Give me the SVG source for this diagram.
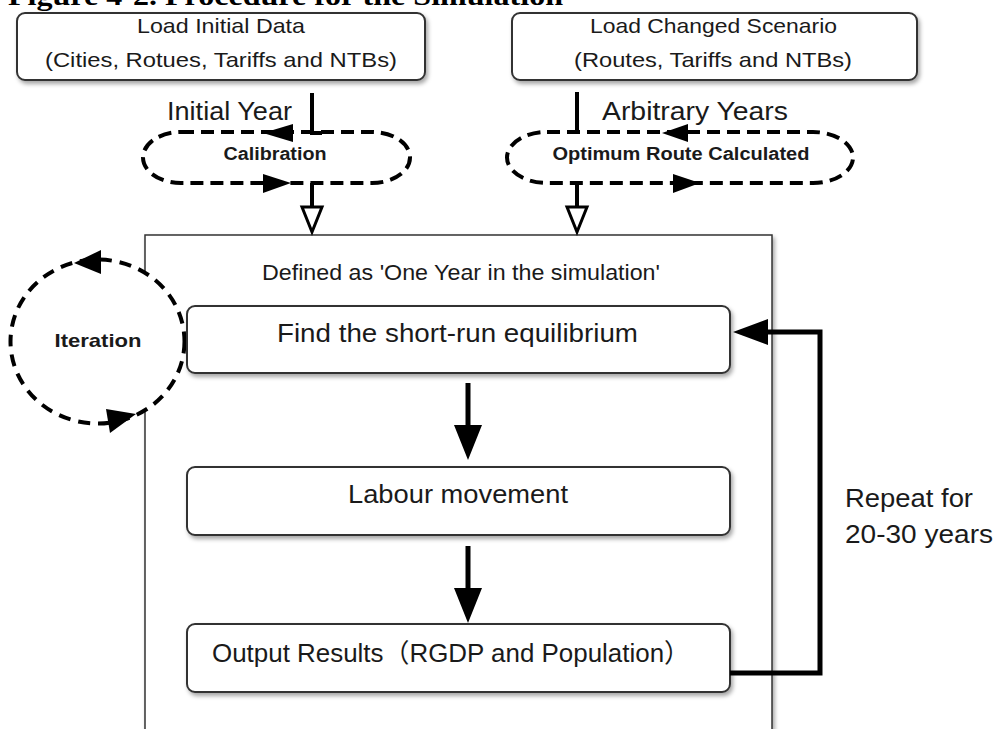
<svg xmlns="http://www.w3.org/2000/svg" width="998" height="729" viewBox="0 0 998 729">
<defs>
<filter id="sh" x="-5%" y="-20%" width="112%" height="150%">
<feDropShadow dx="2" dy="3" stdDeviation="2" flood-color="#000" flood-opacity="0.35"/>
</filter>
<style>
.t{font-family:"Liberation Sans","Noto Sans CJK JP",sans-serif;fill:#1a1a1a}
.b{font-weight:bold}
.box{fill:#fff;stroke:#333;stroke-width:2}
.dash{fill:#fff;stroke:#000;stroke-width:4;stroke-dasharray:13 7}
.ln{fill:none;stroke:#000;stroke-width:4}
.thick{fill:none;stroke:#000;stroke-width:5}
.head{fill:#000}
.open{fill:#fff;stroke:#000;stroke-width:3;stroke-linejoin:miter}
</style>
</defs>
<rect width="998" height="729" fill="#fff"/>
<text x="8" y="5" font-family="Liberation Serif, serif" font-weight="bold" font-size="28" textLength="555" lengthAdjust="spacingAndGlyphs" fill="#000">Figure 4-2. Procedure for the Simulation</text>

<g id="load-initial">
<rect class="box" x="17" y="13" width="408" height="67" rx="8" filter="url(#sh)"/>
<text class="t" x="221" y="33" font-size="21" text-anchor="middle" textLength="168" lengthAdjust="spacingAndGlyphs">Load Initial Data</text>
<text class="t" x="221" y="67" font-size="21" text-anchor="middle" textLength="352" lengthAdjust="spacingAndGlyphs">(Cities, Rotues, Tariffs and NTBs)</text>
</g>
<g id="load-changed">
<rect class="box" x="512" y="13" width="405" height="67" rx="8" filter="url(#sh)"/>
<text class="t" x="713.5" y="33" font-size="21" text-anchor="middle" textLength="247" lengthAdjust="spacingAndGlyphs">Load Changed Scenario</text>
<text class="t" x="713" y="67" font-size="21" text-anchor="middle" textLength="278" lengthAdjust="spacingAndGlyphs">(Routes, Tariffs and NTBs)</text>
</g>

<g id="one-year">
<rect x="145" y="235" width="627" height="520" fill="#fff" stroke="#333" stroke-width="1.5" filter="url(#sh)"/>
<text class="t" x="262" y="280" font-size="22" textLength="398" lengthAdjust="spacingAndGlyphs">Defined as 'One Year in the simulation'</text>
</g>

<g id="iteration">
<ellipse cx="97.5" cy="341.5" rx="87" ry="82" fill="#fff" stroke="#000" stroke-width="4" stroke-dasharray="12 8"/>
<polygon class="head" points="74,263 101,250 101,274"/>
<polygon class="head" points="106,409 110,433 136,414"/>
<text class="t b" x="98" y="347" font-size="19" text-anchor="middle" textLength="87" lengthAdjust="spacingAndGlyphs">Iteration</text>
</g>

<g id="calibration">
<rect class="dash" x="143" y="132" width="267" height="51" rx="38" ry="25.5"/>
<polygon class="head" points="263,133 293,124 293,142"/>
<polygon class="head" points="263,174 263,193 291,183"/>
<text class="t b" x="275" y="160" font-size="18" text-anchor="middle" textLength="103" lengthAdjust="spacingAndGlyphs">Calibration</text>
</g>
<g id="optimum-route">
<rect class="dash" x="507" y="132" width="346" height="51" rx="40" ry="25.5"/>
<polygon class="head" points="662,133 688,124 688,142"/>
<polygon class="head" points="673,174 673,193 700,183"/>
<text class="t b" x="681" y="160" font-size="18" text-anchor="middle" textLength="257" lengthAdjust="spacingAndGlyphs">Optimum Route Calculated</text>
</g>

<g id="find-equilibrium">
<rect class="box" x="187" y="306" width="543" height="67" rx="8" filter="url(#sh)"/>
<text class="t" x="277" y="342" font-size="26" textLength="361" lengthAdjust="spacingAndGlyphs">Find the short-run equilibrium</text>
</g>
<g id="labour-movement">
<rect class="box" x="187" y="467" width="543" height="68" rx="8" filter="url(#sh)"/>
<text class="t" x="348" y="503" font-size="26" textLength="220" lengthAdjust="spacingAndGlyphs">Labour movement</text>
</g>
<g id="output-results">
<rect class="box" x="187" y="624" width="543" height="68" rx="8" filter="url(#sh)"/>
<text class="t" x="212" y="662" font-size="26" textLength="478" lengthAdjust="spacingAndGlyphs">Output Results（RGDP and Population）</text>
</g>

<g id="connectors">
<path class="ln" d="M312,93 V133 H322"/>
<path class="ln" d="M312,183 V207"/>
<polygon class="open" points="302,207 322,207 312,232"/>
<path class="ln" d="M577,92 V133"/>
<path class="ln" d="M577,183 V207"/>
<polygon class="open" points="567,207 587,207 577,232"/>
<path class="thick" d="M468,383 V426"/>
<polygon class="head" points="454,425 482,425 468,460"/>
<path class="thick" d="M468,546 V589"/>
<polygon class="head" points="454,588 482,588 468,623"/>
<path class="thick" d="M730,673 H820 V332 H766" stroke-linejoin="miter"/>
<polygon class="head" points="768,319 768,345 733,332"/>
</g>

<g id="repeat-label">
<text class="t" x="845" y="507" font-size="26" textLength="128" lengthAdjust="spacingAndGlyphs">Repeat for</text>
<text class="t" x="845" y="543" font-size="26" textLength="148" lengthAdjust="spacingAndGlyphs">20-30 years</text>
</g>
<g id="year-labels">
<text class="t" x="167" y="120" font-size="26" textLength="125" lengthAdjust="spacingAndGlyphs">Initial Year</text>
<text class="t" x="602" y="120" font-size="26" textLength="186" lengthAdjust="spacingAndGlyphs">Arbitrary Years</text>
</g>
</svg>
